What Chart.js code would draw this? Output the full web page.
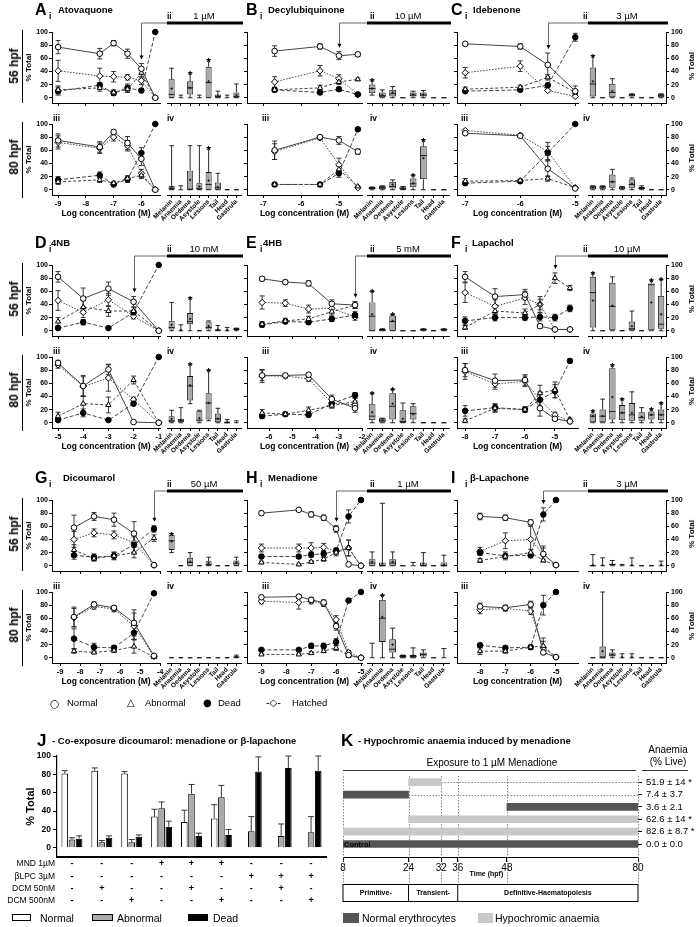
<!DOCTYPE html>
<html>
<head>
<meta charset="utf-8">
<title>Quinone toxicity panels</title>
<script src="https://cdn.jsdelivr.net/npm/chart.js@4.4.1/dist/chart.umd.min.js"></script>
<style>
  html, body { margin: 0; background: #fff; }
  #fig { position: relative; width: 698px; height: 927px; overflow: hidden;
         font-family: "Liberation Sans", Arial, sans-serif; color: #000; }
  #fig canvas { position: absolute; }
  .t { position: absolute; white-space: nowrap; line-height: 1; color: #000; will-change: transform; }
  .r { position: absolute; }
</style>
</head>
<body>
<div id="fig"></div>
<script>
// ---------- data ----------
const seriesNames = ['Normal', 'Abnormal', 'Dead', 'Hatched'];
const boxCats = ['Melanin', 'Anaemia', 'Oedema', 'Asystole', 'Lesions', 'Tail', 'Head', 'Gastrula'];
const yTicks = [0, 20, 40, 60, 80, 100];

// line rows: [normal, abnormal, dead, hatched]; box rows: [min, q1, median, q3, max, mean, star]
const atoX = [-9, -7.5, -7, -6.5, -6, -5.5];
const atoTicks = [-9, -8, -7, -6];
const ato56 = [[77, 67, 83, 67, 44, 0], [12, 15, 8, 13, 38, 0], [10, 19, 7, 15, 11, 100], [41, 33, 32, 31, 26, 0]];
const ato56Err = [[10, 8, 4, 7, 8, 0], [6, 5, 4, 5, 8, 0], [6, 4, 3, 6, 3, 0], [16, 12, 8, 4, 6, 0]];
const ato80 = [[75, 65, 88, 71, 47, 0], [12, 15, 10, 17, 22, 0], [15, 22, 8, 16, 56, 100], [72, 63, 80, 67, 25, 0]];
const ato80Err = [[10, 8, 3, 10, 10, 0], [4, 4, 3, 4, 5, 0], [5, 5, 2, 5, 8, 0], [10, 8, 6, 8, 6, 0]];
const atoBox56 = [[0,0,5,28,45,14,0],[0,0,0,0,4,0,0],[0,5,15,25,38,15,1],[0,0,0,0,4,0,0],[0,0,23,47,58,25,1],[0,0,2,5,10,3,0],[0,0,0,0,4,0,0],[0,0,2,8,21,4,0]];
const atoBox80 = [[0,0,2,6,67,4,0],[0,0,0,0,6,0,0],[0,0,1,29,67,15,0],[0,0,2,10,67,5,0],[0,0,8,27,64,14,1],[0,0,3,11,25,4,0],[0,0,0,0,0,0,0],[0,0,0,0,0,0,0]];

const decX = [-6.7, -5.5, -5, -4.5];
const decTicks = [-7, -6, -5];
const dec56 = [[71, 78, 64, 66], [12, 15, 24, 28], [12, 8, 13, 5], [24, 41, 29, 5]];
const dec56Err = [[8, 4, 6, 3], [3, 4, 4, 2], [3, 2, 3, 1], [8, 8, 6, 2]];
const dec80 = [[60, 80, 75, 58], [8, 8, 31, 5], [8, 8, 25, 92], [58, 79, 38, 3]];
const dec80Err = [[14, 3, 6, 4], [2, 2, 5, 1], [2, 2, 6, 2], [12, 3, 10, 1]];
const decBox56 = [[4,7,14,20,27,14,1],[0,1,3,8,12,4,0],[0,2,6,12,17,8,0],[0,0,0,0,0,0,0],[0,2,4,8,10,5,0],[0,2,4,8,11,5,0],[0,0,0,0,0,0,0],[0,0,0,0,0,0,0]];
const decBox80 = [[0,1,2,4,4,3,0],[0,1,3,6,6,4,0],[0,2,5,12,15,8,0],[0,0,2,5,5,3,0],[0,4,9,17,22,10,1],[0,16,52,66,76,48,1],[0,0,0,0,0,0,0],[0,0,0,0,0,0,0]];

const ideX = [-7, -6, -5.5, -5];
const ideTicks = [-7, -6, -5];
const ide56 = [[82, 78, 50, 10], [13, 16, 31, 8], [10, 12, 19, 92], [38, 48, 11, 2]];
const ide56Err = [[2, 4, 18, 8], [3, 3, 4, 3], [2, 2, 3, 6], [8, 8, 2, 1]];
const ide80 = [[86, 82, 32, 2], [13, 14, 17, 3], [10, 13, 56, 100], [90, 83, 58, 3]];
const ide80Err = [[2, 2, 12, 1], [4, 2, 4, 1], [2, 2, 10, 0], [2, 2, 14, 1]];
const ideBox56 = [[0,2,21,46,64,25,1],[0,0,0,0,0,0,0],[0,1,8,21,29,10,0],[0,0,0,0,0,0,0],[0,2,4,6,6,4,0],[0,0,0,0,0,0,0],[0,0,0,0,0,0,0],[0,1,3,6,6,4,0]];
const ideBox80 = [[0,1,4,6,6,4,0],[0,1,4,6,6,4,0],[0,3,12,23,31,12,0],[0,1,3,5,5,3,0],[0,3,8,16,18,9,0],[0,1,2,4,6,3,0],[0,0,0,0,0,0,0],[0,0,0,0,0,0,0]];

const nbX = [-5, -4, -3, -2, -1];
const nbTicks = [-5, -4, -3, -2, -1];
const nb56 = [[82, 49, 64, 44, 0], [14, 36, 30, 30, 0], [4, 13, 4, 28, 100], [46, 28, 47, 22, 0]];
const nb56Err = [[8, 16, 10, 8, 0], [6, 10, 8, 6, 0], [1, 4, 1, 3, 0], [15, 8, 10, 4, 0]];
const nb80 = [[91, 56, 81, 1, 0], [10, 29, 27, 65, 0], [4, 15, 4, 29, 100], [88, 55, 68, 35, 0]];
const nb80Err = [[4, 16, 8, 1, 0], [6, 12, 12, 6, 0], [2, 6, 1, 3, 0], [5, 15, 20, 4, 0]];
const nbBox56 = [[0,2,5,15,43,9,0],[0,0,0,0,9,1,0],[0,10,14,27,50,18,1],[0,0,0,0,0,0,0],[0,2,5,14,15,7,0],[0,0,1,2,8,2,0],[0,0,0,0,5,1,0],[0,1,2,4,4,2,0]];
const nbBox80 = [[0,1,3,10,19,6,0],[0,1,3,6,23,4,0],[29,34,56,71,89,57,1],[0,2,4,18,19,7,0],[3,5,30,45,80,30,1],[0,1,6,14,22,6,0],[0,0,0,2,5,1,0],[0,0,0,0,3,0,0]];

const hbX = [-6.3, -5.3, -4.3, -3.3, -2.3];
const hbTicks = [-6, -5, -4, -3, -2];
const hb56 = [[79, 74, 72, 41, 39], [10, 15, 18, 29, 39], [9, 14, 13, 18, 24], [43, 42, 33, 34, 21]];
const hb56Err = [[3, 3, 4, 6, 5], [4, 4, 4, 5, 5], [3, 3, 3, 4, 5], [10, 5, 6, 6, 5]];
const hb80 = [[72, 72, 73, 36, 22], [15, 13, 19, 26, 32], [10, 13, 12, 29, 42], [71, 71, 67, 30, 27]];
const hb80Err = [[8, 3, 3, 6, 6], [5, 3, 5, 4, 5], [3, 2, 3, 4, 4], [10, 3, 4, 6, 6]];
const hbBox56 = [[0,0,22,43,60,25,1],[0,0,1,3,3,2,0],[0,0,14,23,25,15,1],[0,0,0,0,0,0,0],[0,0,0,0,0,0,0],[0,0,2,3,3,2,0],[0,0,0,0,0,0,0],[0,0,2,3,3,2,0]];
const hbBox80 = [[0,4,10,28,45,16,1],[0,1,4,7,7,4,0],[0,5,25,45,51,29,1],[0,0,2,19,30,6,0],[0,5,14,25,29,13,0],[0,0,0,0,0,0,0],[0,0,0,0,0,0,0],[0,0,0,0,0,0,0]];

const lapX = [-8, -7, -6, -5.5, -5, -4.5];
const lapTicks = [-8, -7, -6, -5];
const lap56 = [[82, 52, 55, 7, 2, 2], [5, 30, 27, 40, 80, 65], [15, 20, 20, 21, 20, 34], [58, 37, 50, 40, 2, 2]];
const lap56Err = [[8, 12, 8, 3, 1, 1], [3, 5, 6, 8, 8, 4], [6, 5, 4, 6, 5, 5], [15, 10, 10, 12, 1, 1]];
const lap80 = [[80, 64, 65, 22, 6, 2], [3, 22, 20, 45, 50, 5], [18, 23, 20, 35, 48, 94], [78, 59, 63, 35, 12, 2]];
const lap80Err = [[10, 10, 8, 12, 3, 1], [3, 6, 4, 12, 12, 2], [8, 6, 4, 10, 10, 3], [12, 8, 8, 12, 4, 1]];
const lapBox56 = [[0,5,58,82,88,46,1],[0,0,0,0,0,0,0],[0,0,37,73,82,38,0],[0,0,0,0,0,0,0],[0,0,3,14,30,7,0],[0,0,0,0,0,0,0],[0,0,70,72,77,43,1],[0,3,10,53,78,25,1]];
const lapBox80 = [[0,0,10,14,18,10,1],[0,0,10,20,36,10,0],[0,5,17,83,88,39,1],[0,4,15,27,36,15,1],[0,3,12,30,47,15,0],[0,3,8,16,23,9,0],[0,5,12,17,21,12,1],[0,4,12,20,30,12,1]];

const dicX = [-8.3, -7.3, -6.3, -5.3, -4.3];
const dicTicks = [-9, -8, -7, -6, -5, -4];
const dic56 = [[58, 75, 70, 49, 1], [24, 11, 15, 20, 42], [16, 13, 15, 32, 56], [40, 50, 47, 35, 1]];
const dic56Err = [[19, 6, 10, 18, 1], [8, 4, 6, 8, 5], [6, 5, 5, 12, 5], [12, 6, 6, 14, 1]];
const dic80 = [[62, 81, 76, 53, 3], [10, 8, 11, 17, 1], [29, 16, 15, 38, 98], [61, 78, 74, 48, 2]];
const dic80Err = [[15, 4, 3, 20, 1], [3, 2, 3, 10, 1], [15, 6, 4, 10, 0], [14, 4, 4, 20, 1]];
const dicBox56 = [[20,24,38,47,49,37,1],[0,0,0,0,0,0,0],[0,0,5,12,20,6,0],[0,0,0,0,0,0,0],[0,0,2,7,13,4,0],[0,0,0,0,0,0,0],[0,0,0,0,0,0,0],[0,0,3,8,13,5,0]];
const dicBox80 = [[0,0,0,0,0,0,0],[0,0,0,0,0,0,0],[0,0,0,0,0,0,0],[0,0,0,0,0,0,0],[0,0,0,0,0,0,0],[0,0,0,0,0,0,0],[0,0,0,0,0,0,0],[0,0,1,2,4,2,0]];

const menX = [-9, -7.5, -7, -6.5, -6, -5.5, -5];
const menTicks = [-9, -8, -7, -6, -5];
const men56 = [[80, 85, 78, 73, 56, 2, 0], [5, 2, 6, 10, 20, 27, 0], [14, 14, 17, 18, 23, 75, 100], [27, 27, 27, 28, 22, 27, 0]];
const men56Err = [[3, 2, 4, 4, 5, 1, 0], [2, 1, 2, 3, 5, 12, 0], [3, 2, 4, 5, 4, 10, 0], [6, 6, 8, 6, 4, 12, 0]];
const men80 = [[92, 93, 88, 84, 48, 4, 0], [5, 5, 7, 10, 15, 3, 0], [12, 12, 18, 18, 24, 87, 100], [86, 84, 86, 82, 58, 8, 0]];
const men80Err = [[3, 3, 4, 4, 6, 2, 0], [1, 1, 2, 2, 4, 1, 0], [2, 2, 4, 4, 5, 3, 0], [4, 10, 4, 4, 6, 3, 0]];
const menBox56 = [[0,0,4,10,21,6,0],[0,0,0,5,95,3,0],[0,0,4,10,21,6,0],[0,0,0,0,0,0,0],[0,0,0,0,5,0,0],[0,0,0,5,20,3,0],[0,0,0,0,0,0,0],[0,0,0,5,16,2,0]];
const menBox80 = [[0,0,0,0,22,0,0],[0,24,60,88,95,62,1],[0,8,13,28,45,20,0],[0,0,2,4,4,2,0],[0,0,2,4,15,3,0],[0,2,5,8,12,5,0],[0,0,0,0,0,0,0],[0,0,0,0,14,0,0]];

const blpX = [-8, -7, -6, -5.5, -5];
const blpTicks = [-8, -7, -6, -5];
const blp56 = [[75, 73, 66, 18, 1], [8, 14, 20, 8, 1], [20, 15, 16, 78, 100], [22, 38, 40, 17, 1]];
const blp56Err = [[5, 4, 4, 12, 1], [3, 3, 5, 2, 1], [4, 6, 4, 10, 0], [6, 12, 20, 10, 1]];
const blp80 = [[78, 76, 81, 8, 1], [10, 10, 16, 18, 1], [19, 15, 16, 80, 100], [73, 75, 71, 15, 1]];
const blp80Err = [[5, 4, 5, 3, 1], [5, 3, 3, 12, 1], [3, 3, 3, 15, 0], [6, 4, 5, 10, 1]];
const blpBox56 = [[0,0,0,1,17,1,0],[0,0,0,0,12,1,0],[0,0,2,3,8,2,0],[0,0,0,0,2,0,0],[0,0,0,0,12,1,0],[0,0,0,0,0,0,0],[0,0,0,0,0,0,0],[0,0,0,0,7,1,0]];
const blpBox80 = [[0,0,0,0,0,0,0],[0,0,0,17,100,10,0],[0,2,4,8,12,5,0],[0,0,0,0,6,1,0],[0,0,0,0,6,1,0],[0,0,0,0,0,0,0],[0,0,0,0,0,0,0],[0,0,0,0,0,0,0]];

// J: co-exposure
const jGroups = ['Ctrl', 'DCM50', 'DCM500', 'MND', 'MND+DCM50', 'MND+DCM500', 'BLPC', 'BLPC+DCM50', 'BLPC+DCM500'];
const jNormal = [81, 84, 81, 34, 28, 32, 0, 1, 0];
const jNormalErr = [3, 3, 2, 8, 13, 15, 0, 0, 0];
const jAbnormal = [9, 6, 6, 43, 59, 55, 18, 13, 17];
const jAbnormalErr = [2, 2, 3, 7, 10, 13, 16, 13, 17];
const jDead = [10, 11, 12, 23, 13, 14, 83, 87, 84];
const jDeadErr = [3, 2, 2, 6, 3, 6, 16, 13, 16];
const jTreatNames = ['MND 1µM', 'βLPC 3µM', 'DCM 50nM', 'DCM 500nM'];
const jTreat = [
  [0, 0, 0, 1, 1, 1, 0, 0, 0],
  [0, 0, 0, 0, 0, 0, 1, 1, 1],
  [0, 1, 0, 0, 1, 0, 0, 1, 0],
  [0, 0, 1, 0, 0, 1, 0, 0, 1]
];

// K: exposure windows (top to bottom)
const kRows = ['51.9 ± 14 *', '7.4 ± 3.7', '3.6 ± 2.1', '62.6 ± 14 *', '82.6 ± 8.7 *', '0.0 ± 0.0'];
const kFrom = [24, 8, 48, 24, 8, 8];
const kTo = [32, 24, 80, 80, 80, 80];
const kAnaemic = [1, 0, 0, 1, 1, 0];
const kTicks = [8, 24, 32, 36, 48, 80];
const kPhases = ['Primitive-', 'Transient-', 'Definitive-Haematopoiesis'];
const kPhaseEdges = [8, 24, 36, 80];

// ---------- layout ----------
const FONT = '"Liberation Sans", Arial, sans-serif';
Chart.defaults.font.family = FONT;
Chart.defaults.color = '#000';

const rowTop = [0, 233, 468];
const colGeom = [
  {lineL: 52, lineR: 160, boxL: 167, boxR: 241, letterX: 35, iiiX: 53, iiX: 167},
  {lineL: 247, lineR: 362, boxL: 367, boxR: 449, letterX: 246, iiiX: 262, iiX: 370},
  {lineL: 457, lineR: 578, boxL: 588, boxR: 666, letterX: 451, iiiX: 461, iiX: 583}
];

const panels = [
  {letter: 'A', title: 'Atovaquone', titleX: 58, col: 0, row: 0, x: atoX, ticks: atoTicks, range: [-9.22, -5.33], conc: -6, dose: '1 µM', i: ato56, ie: ato56Err, iii: ato80, iiie: ato80Err, ii: atoBox56, iv: atoBox80},
  {letter: 'B', title: 'Decylubiquinone', titleX: 268, col: 1, row: 0, x: decX, ticks: decTicks, range: [-7.43, -4.39], conc: -5, dose: '10 µM', i: dec56, ie: dec56Err, iii: dec80, iiie: dec80Err, ii: decBox56, iv: decBox80},
  {letter: 'C', title: 'Idebenone', titleX: 473, col: 2, row: 0, x: ideX, ticks: ideTicks, range: [-7.15, -4.95], conc: -5.5, dose: '3 µM', i: ide56, ie: ide56Err, iii: ide80, iiie: ide80Err, ii: ideBox56, iv: ideBox80},
  {letter: 'D', title: '4NB', titleX: 51, col: 0, row: 1, x: nbX, ticks: nbTicks, range: [-5.24, -0.95], conc: -2, dose: '10 mM', i: nb56, ie: nb56Err, iii: nb80, iiie: nb80Err, ii: nbBox56, iv: nbBox80},
  {letter: 'E', title: '4HB', titleX: 263, col: 1, row: 1, x: hbX, ticks: hbTicks, range: [-6.95, -2.0], lineR: 367, conc: -2.3, dose: '5 mM', i: hb56, ie: hb56Err, iii: hb80, iiie: hb80Err, ii: hbBox56, iv: hbBox80},
  {letter: 'F', title: 'Lapachol', titleX: 472, col: 2, row: 1, x: lapX, ticks: lapTicks, range: [-8.27, -4.23], conc: -5, dose: '10 µM', i: lap56, ie: lap56Err, iii: lap80, iiie: lap80Err, ii: lapBox56, iv: lapBox80},
  {letter: 'G', title: 'Dicoumarol', titleX: 63, col: 0, row: 2, x: dicX, ticks: dicTicks, range: [-9.4, -4.0], conc: -4.3, dose: '50 µM', i: dic56, ie: dic56Err, iii: dic80, iiie: dic80Err, ii: dicBox56, iv: dicBox80},
  {letter: 'H', title: 'Menadione', titleX: 268, col: 1, row: 2, x: menX, ticks: menTicks, range: [-9.58, -4.96], lineR: 366, conc: -6, dose: '1 µM', i: men56, ie: men56Err, iii: men80, iiie: men80Err, ii: menBox56, iv: menBox80},
  {letter: 'I', title: 'β-Lapachone', titleX: 470, col: 2, row: 2, x: blpX, ticks: blpTicks, range: [-8.91, -4.13], conc: -5.5, dose: '3 µM', i: blp56, ie: blp56Err, iii: blp80, iiie: blp80Err, ii: blpBox56, iv: blpBox80}
];

const seriesStyle = [
  {pointStyle: 'circle', fill: '#fff', dash: [], r: 2.8},
  {pointStyle: 'triangle', fill: '#fff', dash: [3, 2], r: 3},
  {pointStyle: 'circle', fill: '#000', dash: [4, 2], r: 2.8},
  {pointStyle: 'rectRot', fill: '#fff', dash: [1.5, 1.5], r: 3.2}
];

const fig = document.getElementById('fig');

function canvasAt(left, top, w, h) {
  const c = document.createElement('canvas');
  c.width = w; c.height = h;
  c.style.left = left + 'px'; c.style.top = top + 'px';
  c.style.width = w + 'px'; c.style.height = h + 'px';
  fig.appendChild(c);
  return c.getContext('2d');
}

function txt(s, x, y, size, o = {}) {
  const d = document.createElement('div');
  d.className = 't';
  d.textContent = s;
  d.style.left = x + 'px';
  d.style.top = y + 'px';
  d.style.fontSize = size + 'px';
  d.style.fontWeight = o.w || 'bold';
  if (o.font) d.style.fontFamily = o.font;
  if (o.rot) d.style.transform = 'translate(-50%,-50%) rotate(' + o.rot + 'deg)';
  else d.style.transform = o.center ? 'translate(-50%,-50%)' : 'translate(0,-50%)';
  fig.appendChild(d);
}

function rect(x, y, w, h, css) {
  const d = document.createElement('div');
  d.className = 'r';
  d.style.cssText += `left:${x}px;top:${y}px;width:${w}px;height:${h}px;` + css;
  fig.appendChild(d);
}

// keep axis boxes at fixed sizes so plot areas land where they should
function fixSize(size) {
  return function (s) {
    if (s.isHorizontal()) s.height = size; else s.width = size;
    s.paddingLeft = 0; s.paddingRight = 0; s.paddingTop = 0; s.paddingBottom = 0;
  };
}

function strokeLine(ctx, x1, y1, x2, y2) {
  ctx.beginPath(); ctx.moveTo(x1, y1); ctx.lineTo(x2, y2); ctx.stroke();
}

// ---------- plugins ----------
const errorBars = {
  id: 'errorBars',
  beforeDatasetsDraw(chart, args, opts) {
    const ctx = chart.ctx, ys = chart.scales.y;
    ctx.save();
    ctx.strokeStyle = '#222';
    ctx.lineWidth = 0.9;
    chart.data.datasets.forEach((ds, k) => {
      if (!ds.err) return;
      chart.getDatasetMeta(k).data.forEach((el, j) => {
        const e = ds.err[j];
        if (!e) return;
        const d = ds.data[j];
        const v = typeof d === 'object' ? d.y : d;
        const x = el.x;
        const top = ys.getPixelForValue(v + e);
        const bot = opts.up ? ys.getPixelForValue(v) : ys.getPixelForValue(Math.max(v - e, ys.min));
        strokeLine(ctx, x, top, x, bot);
        strokeLine(ctx, x - opts.cap, top, x + opts.cap, top);
        if (!opts.up) strokeLine(ctx, x - opts.cap, bot, x + opts.cap, bot);
      });
    });
    ctx.restore();
  }
};

const concArrow = {
  id: 'concArrow',
  afterDatasetsDraw(chart, args, o) {
    const ctx = chart.ctx, xs = chart.scales.x, ys = chart.scales.y;
    const x = Math.round(xs.getPixelForValue(o.x)) + 0.5;
    let peak = 0;
    chart.data.datasets.forEach(ds => ds.data.forEach((d, j) => {
      if (Math.abs(d.x - o.x) < 1e-6) peak = Math.max(peak, d.y + (ds.err[j] || 0));
    }));
    const tip = ys.getPixelForValue(peak) - 4;
    ctx.save();
    ctx.strokeStyle = '#666';
    ctx.lineWidth = 1;
    ctx.beginPath();
    ctx.moveTo(chart.width, o.y); ctx.lineTo(x, o.y); ctx.lineTo(x, tip - 3);
    ctx.stroke();
    ctx.fillStyle = '#000';
    ctx.beginPath();
    ctx.moveTo(x - 2, tip - 4); ctx.lineTo(x + 2, tip - 4); ctx.lineTo(x, tip);
    ctx.closePath(); ctx.fill();
    ctx.restore();
  }
};

const concBar = {
  id: 'concBar',
  afterDraw(chart, args, o) {
    const ctx = chart.ctx, a = chart.chartArea;
    ctx.save();
    ctx.fillStyle = '#000';
    ctx.fillRect(a.left, o.y - 1.5, a.right - a.left + 2, 3);
    ctx.font = '9.5px ' + FONT;
    ctx.textAlign = 'center';
    ctx.textBaseline = 'alphabetic';
    ctx.fillText(o.label, (a.left + a.right) / 2, o.y - 4);
    ctx.restore();
  }
};

const boxPlugin = {
  id: 'boxes',
  afterDatasetsDraw(chart) {
    const ctx = chart.ctx, ys = chart.scales.y;
    const ds = chart.data.datasets[0];
    const meta = chart.getDatasetMeta(0);
    const py = v => ys.getPixelForValue(v);
    ctx.save();
    ctx.strokeStyle = '#111';
    ctx.fillStyle = '#000';
    ctx.lineWidth = 0.9;
    ds.box.forEach((b, j) => {
      const [mn, q1, md, q3, mx, mean, star] = b;
      const el = meta.data[j];
      const x = el.x, hw = el.width / 2, cw = hw * 0.75;
      strokeLine(ctx, x, py(q3), x, py(mx));
      strokeLine(ctx, x, py(mn), x, py(q1));
      strokeLine(ctx, x - cw, py(mx), x + cw, py(mx));
      strokeLine(ctx, x - cw, py(mn), x + cw, py(mn));
      if (q3 > q1) strokeLine(ctx, x - hw, py(md), x + hw, py(md));
      if (mean > 0) {
        strokeLine(ctx, x - 1.2, py(mean), x + 1.2, py(mean));
        strokeLine(ctx, x, py(mean) - 1.2, x, py(mean) + 1.2);
      }
      if (star) {
        ctx.font = 'bold 11px ' + FONT;
        ctx.textAlign = 'center';
        ctx.textBaseline = 'alphabetic';
        ctx.fillText('*', x, py(mx) + 6);
      }
    });
    ctx.restore();
  }
};

// ---------- panel charts ----------
function lineChart(p, late) {
  const g = colGeom[p.col];
  const lineR = p.lineR || g.lineR;
  const rowY = rowTop[p.row];
  const plotT = rowY + (late ? 124 : 32);
  const plotH = 71;
  const yW = p.col === 0 ? 28 : 5;
  const xH = late ? 24 : 6;
  const padT = late ? 6 : 20;
  const padR = Math.max(g.boxL - lineR, 0);
  const left = g.lineL - yW, top = plotT - padT;
  const ctx = canvasAt(left, top, yW + (lineR - g.lineL) + padR, padT + plotH + xH);
  const ys = late ? p.iii : p.i, es = late ? p.iiie : p.ie;
  new Chart(ctx, {
    type: 'line',
    data: {
      datasets: seriesNames.map((name, k) => ({
        label: name,
        data: p.x.map((x, j) => ({x, y: ys[k][j]})),
        err: es[k],
        borderColor: '#444',
        borderWidth: 1,
        borderDash: seriesStyle[k].dash,
        pointStyle: seriesStyle[k].pointStyle,
        pointRadius: seriesStyle[k].r,
        pointBackgroundColor: seriesStyle[k].fill,
        pointBorderColor: '#000',
        pointBorderWidth: 1,
        clip: false,
        tension: 0
      }))
    },
    options: {
      responsive: false, animation: false, devicePixelRatio: 1, events: [],
      layout: {padding: {top: padT, right: padR, left: 0, bottom: 0}},
      plugins: {
        legend: {display: false}, tooltip: {enabled: false},
        errorBars: {cap: 2.5},
        concArrow: late ? false : {x: p.conc, y: rowY + 23 - top}
      },
      scales: {
        x: {
          type: 'linear', min: p.range[0], max: p.range[1],
          afterBuildTicks: s => { s.ticks = p.ticks.map(v => ({value: v})); },
          afterFit: fixSize(xH),
          grid: {drawOnChartArea: false, tickLength: 3, color: '#000', lineWidth: 1},
          border: {color: '#000', width: 1},
          ticks: {display: late, autoSkip: false, maxRotation: 0, padding: 1, color: '#000', font: {size: 7.5, weight: 'bold'}},
          title: {display: late, text: 'Log concentration (M)', padding: 0, color: '#000', font: {size: 8.5, weight: 'bold'}}
        },
        y: {
          min: -8, max: 100,
          afterBuildTicks: s => { s.ticks = yTicks.map(v => ({value: v})); },
          afterFit: fixSize(yW),
          grid: {drawOnChartArea: false, tickLength: 3, color: '#000'},
          border: {color: '#000', width: 1},
          ticks: {display: p.col === 0, padding: 1, color: '#000', font: {size: 7, weight: 'bold'}},
          title: {display: p.col === 0, text: '% Total', padding: 0, color: '#000', font: {size: 8, weight: 'bold'}}
        }
      }
    },
    plugins: [errorBars, concArrow]
  });
}

function boxChart(p, late) {
  const g = colGeom[p.col];
  const rowY = rowTop[p.row];
  const plotT = rowY + (late ? 124 : 32);
  const plotH = 71;
  const right = p.col === 2;
  const yW = right ? 26 : 0;
  const xH = late ? 32 : 6;
  const padT = late ? 6 : 22;
  const padL = late ? 24 : 0;
  const left = g.boxL - padL, top = plotT - padT;
  const ctx = canvasAt(left, top, padL + (g.boxR - g.boxL) + yW + 2, padT + plotH + xH);
  const box = late ? p.iv : p.ii;
  new Chart(ctx, {
    type: 'bar',
    data: {
      labels: boxCats,
      datasets: [{
        data: box.map(b => [b[1], b[3]]),
        box,
        backgroundColor: '#a9a9a9',
        borderColor: '#111',
        borderWidth: 0.9,
        borderSkipped: false,
        barPercentage: 0.65,
        categoryPercentage: 1
      }]
    },
    options: {
      responsive: false, animation: false, devicePixelRatio: 1, events: [],
      layout: {padding: {top: padT, left: padL, right: 2, bottom: 0}},
      plugins: {
        legend: {display: false}, tooltip: {enabled: false},
        concBar: late ? false : {y: rowY + 23 - top, label: p.dose}
      },
      scales: {
        x: {
          afterFit: fixSize(xH),
          grid: {offset: false, drawOnChartArea: false, tickLength: 3, color: '#000'},
          border: {color: '#000', width: 1},
          ticks: {display: late, autoSkip: false, minRotation: 45, maxRotation: 45, padding: 0, color: '#000', font: {size: 6.5, weight: 'bold'}}
        },
        y: {
          display: right, position: 'right', min: -8, max: 100,
          afterBuildTicks: s => { s.ticks = yTicks.map(v => ({value: v})); },
          afterFit: fixSize(yW),
          grid: {drawOnChartArea: false, tickLength: 3, color: '#000'},
          border: {color: '#000', width: 1},
          ticks: {padding: 2, color: '#000', font: {size: 7, weight: 'bold'}}
        }
      }
    },
    plugins: [boxPlugin, concBar]
  });
}

panels.forEach(p => {
  const g = colGeom[p.col];
  const rowY = rowTop[p.row];
  txt(p.letter, g.letterX, rowY + 10, 16);
  txt('i', g.letterX + 14, rowY + 16, 8.5);
  txt(p.title, p.titleX, rowY + 10, 9.5);
  txt('ii', g.iiX, rowY + 16, 8.5);
  txt('iii', g.iiiX, rowY + 118, 8.5);
  txt('iv', g.iiX, rowY + 118, 8.5);
  if (p.col === 0) {
    txt('56 hpf', 14, rowY + 66, 12, {rot: -90});
    txt('80 hpf', 14, rowY + 157, 12, {rot: -90});
    rect(22, rowY + 30, 1.2, 73, 'background:#000');
    rect(22, rowY + 122, 1.2, 76, 'background:#000');
  }
  if (p.col === 2) {
    txt('% Total', 692, rowY + 66, 8, {rot: -90});
    txt('% Total', 692, rowY + 158, 8, {rot: -90});
  }
  lineChart(p, false);
  lineChart(p, true);
  boxChart(p, false);
  boxChart(p, true);
});

// ---------- shared legend ----------
const LEG_Y = 703;
txt('○', 50, LEG_Y, 11, {w: 'normal', font: '"DejaVu Sans"'});
txt('Normal', 67, LEG_Y, 9.5, {w: 'normal'});
txt('△', 127, LEG_Y, 10, {w: 'normal', font: '"DejaVu Sans"'});
txt('Abnormal', 145, LEG_Y, 9.5, {w: 'normal'});
txt('●', 203, LEG_Y, 10, {w: 'normal', font: '"DejaVu Sans"'});
txt('Dead', 218, LEG_Y, 9.5, {w: 'normal'});
txt('-◇-', 266, LEG_Y, 10, {w: 'normal', font: '"DejaVu Sans"'});
txt('Hatched', 292, LEG_Y, 9.5, {w: 'normal'});

// ---------- J ----------
txt('J', 37, 740, 17);
txt('- Co-exposure dicoumarol: menadione or β-lapachone', 52, 741, 9.5);

const treatTable = {
  id: 'treatTable',
  afterDraw(chart) {
    const ctx = chart.ctx, xs = chart.scales.x, a = chart.chartArea;
    ctx.save();
    ctx.fillStyle = '#000';
    ctx.textBaseline = 'middle';
    jTreatNames.forEach((name, r) => {
      const y = a.bottom + 7 + r * 12.3;
      ctx.font = '8.5px ' + FONT;
      ctx.textAlign = 'right';
      ctx.fillText(name, a.left - 2, y);
      ctx.font = 'bold 9px ' + FONT;
      ctx.textAlign = 'center';
      jTreat[r].forEach((on, gi) => ctx.fillText(on ? '+' : '-', xs.getPixelForValue(gi), y));
    });
    ctx.restore();
  }
};

const jCtx = canvasAt(0, 745, 330, 168);
new Chart(jCtx, {
  type: 'bar',
  data: {
    labels: jGroups,
    datasets: [
      {label: 'Normal', data: jNormal, err: jNormalErr, backgroundColor: '#fff'},
      {label: 'Abnormal', data: jAbnormal, err: jAbnormalErr, backgroundColor: '#aaa'},
      {label: 'Dead', data: jDead, err: jDeadErr, backgroundColor: '#000'}
    ].map(d => Object.assign(d, {borderColor: '#000', borderWidth: 1, categoryPercentage: 0.72, barPercentage: 0.92}))
  },
  options: {
    responsive: false, animation: false, devicePixelRatio: 1, events: [],
    layout: {padding: {left: 24, top: 11, right: 4, bottom: 0}},
    plugins: {legend: {display: false}, tooltip: {enabled: false}, errorBars: {cap: 3, up: true}},
    scales: {
      x: {
        afterFit: fixSize(56),
        grid: {display: false},
        border: {color: '#000', width: 2},
        ticks: {display: false}
      },
      y: {
        min: -10, max: 100,
        afterBuildTicks: s => { s.ticks = yTicks.map(v => ({value: v})); },
        afterFit: fixSize(33),
        grid: {drawOnChartArea: false, tickLength: 4, color: '#000'},
        border: {color: '#000', width: 1.2},
        ticks: {padding: 2, color: '#000', font: {size: 8.5, weight: 'bold'}},
        title: {display: true, text: '% Total', padding: 0, color: '#000', font: {size: 11, weight: 'bold'}}
      }
    }
  },
  plugins: [errorBars, treatTable]
});

rect(12, 914, 19, 7, 'background:#fff;border:1px solid #000;box-sizing:border-box');
txt('Normal', 40, 918, 10.5, {w: 'normal'});
rect(92, 914, 21, 7, 'background:#aaa;border:1px solid #000;box-sizing:border-box');
txt('Abnormal', 117, 918, 10.5, {w: 'normal'});
rect(188, 914, 20, 7, 'background:#000');
txt('Dead', 213, 918, 10.5, {w: 'normal'});

// ---------- K ----------
txt('K', 341, 740, 17);
txt('- Hypochromic anaemia induced by menadione', 358, 741, 9.5);
txt('Exposure to 1 µM Menadione', 492, 763, 10, {w: 'normal', center: true});
rect(343, 770, 293, 1, 'background:#333');
txt('Anaemia', 668, 750, 10, {w: 'normal', center: true});
txt('(% Live)', 668, 762, 10, {w: 'normal', center: true});
rect(642, 770, 46, 1, 'background:#333');

const kGuides = {
  id: 'kGuides',
  beforeDatasetsDraw(chart) {
    const ctx = chart.ctx, xs = chart.scales.x, ys = chart.scales.y, a = chart.chartArea;
    ctx.save();
    ctx.strokeStyle = '#666';
    ctx.lineWidth = 0.8;
    ctx.setLineDash([1.5, 1.5]);
    kTicks.forEach(t => {
      const x = Math.round(xs.getPixelForValue(t)) + 0.5;
      strokeLine(ctx, x, a.top, x, a.bottom + 27);
    });
    kTo.forEach((t, i) => {
      if (t >= 80) return;
      const y = Math.round(ys.getPixelForValue(kRows.length - i)) + 0.5;
      strokeLine(ctx, xs.getPixelForValue(t), y, a.right + 2, y);
    });
    ctx.restore();
  },
  afterDraw(chart) {
    const ctx = chart.ctx, xs = chart.scales.x, ys = chart.scales.y, a = chart.chartArea;
    ctx.save();
    ctx.strokeStyle = '#000';
    ctx.fillStyle = '#000';
    ctx.lineWidth = 1;
    const bt = a.bottom + 27.5, bh = 17;
    const x0 = xs.getPixelForValue(kPhaseEdges[0]), x1 = xs.getPixelForValue(kPhaseEdges[kPhaseEdges.length - 1]);
    ctx.strokeRect(x0, bt, x1 - x0, bh);
    ctx.font = 'bold 7px ' + FONT;
    ctx.textAlign = 'center';
    ctx.textBaseline = 'middle';
    kPhases.forEach((name, i) => {
      const l = xs.getPixelForValue(kPhaseEdges[i]), r = xs.getPixelForValue(kPhaseEdges[i + 1]);
      if (i > 0) strokeLine(ctx, l, bt, l, bt + bh);
      ctx.fillText(name, (l + r) / 2, bt + bh / 2 + 0.5);
    });
    ctx.fillText('Time (hpf)', xs.getPixelForValue(43), a.bottom + 17);
    ctx.font = 'bold 7.5px ' + FONT;
    ctx.textAlign = 'left';
    ctx.fillText('Control', xs.getPixelForValue(8) + 1, ys.getPixelForValue(1) + 0.5);
    ctx.restore();
  }
};

const kCtx = canvasAt(336, 770, 362, 136);
new Chart(kCtx, {
  type: 'bar',
  data: {
    datasets: [{
      data: kFrom.map((f, i) => ({x: [f, kTo[i]], y: kRows.length - i})),
      backgroundColor: kAnaemic.map(v => v ? '#c8c8c8' : '#555'),
      barThickness: 7,
      borderWidth: 0
    }]
  },
  options: {
    indexAxis: 'y',
    responsive: false, animation: false, devicePixelRatio: 1, events: [],
    layout: {padding: {left: 7, top: 6, right: 0, bottom: 0}},
    plugins: {legend: {display: false}, tooltip: {enabled: false}},
    scales: {
      x: {
        type: 'linear', min: 8, max: 80,
        afterBuildTicks: s => { s.ticks = kTicks.map(v => ({value: v})); },
        afterFit: fixSize(49),
        grid: {drawOnChartArea: false, tickLength: 5, color: '#000'},
        border: {color: '#000', width: 1},
        ticks: {autoSkip: false, maxRotation: 0, padding: 0, color: '#000', font: {size: 10}}
      },
      y: {
        type: 'linear', position: 'right', min: -0.05, max: 6.5, offset: false,
        afterBuildTicks: s => { s.ticks = kRows.map((r, i) => ({value: i + 1})); },
        afterFit: fixSize(60),
        grid: {offset: false, drawOnChartArea: false, tickLength: 4, color: '#000'},
        border: {display: false},
        ticks: {autoSkip: false, padding: 4, color: '#000', font: {size: 9.5}, callback: v => kRows[kRows.length - v]}
      }
    }
  },
  plugins: [kGuides]
});

rect(343, 913, 16, 10, 'background:#555');
txt('Normal erythrocytes', 362, 918, 10.5, {w: 'normal'});
rect(478, 913, 15, 10, 'background:#c8c8c8');
txt('Hypochromic anaemia', 495, 918, 10.5, {w: 'normal'});
</script>
</body>
</html>
